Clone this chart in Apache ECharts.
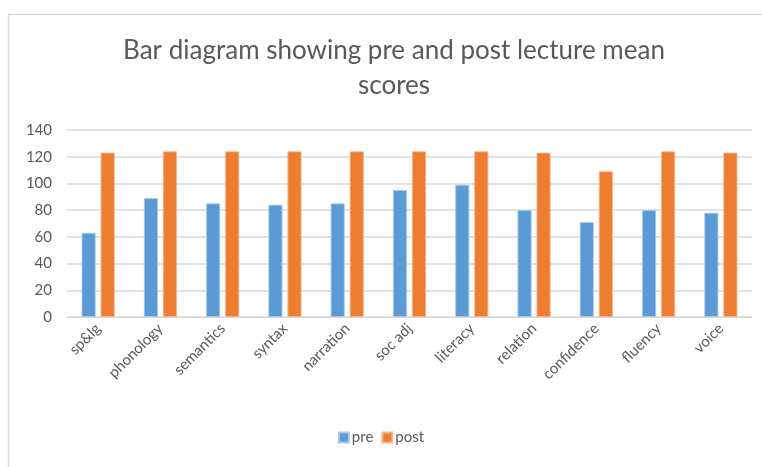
<!DOCTYPE html>
<html>
<head>
<meta charset="utf-8">
<script src="https://cdn.jsdelivr.net/npm/echarts@6/dist/echarts.min.js"></script>
<style>
  html, body { margin: 0; padding: 0; background: #fff; }
  #bar { width: 762px; height: 467px; }
</style>
</head>
<body>
<div id="bar"></div>
<script>
var categories = ['sp&lg', 'phonology', 'semantics', 'syntax', 'narration', 'soc adj', 'literacy', 'relation', 'confidence', 'fluency', 'voice'];
var preScores = [63, 89, 85, 84, 85, 95, 99, 80, 71, 80, 78];
var postScores = [123, 124, 124, 124, 124, 124, 124, 123, 109, 124, 123];
var yTicks = [0, 20, 40, 60, 80, 100, 120, 140];

var myChart = echarts.init(document.getElementById('bar'));
var option = {
  animation: false,
  textStyle: { fontFamily: 'Lato' },
  graphic: [
    {
      type: 'rect',
      shape: { x: 8.5, y: 14.5, width: 800, height: 500 },
      style: { fill: 'none', stroke: '#d9d9d9', lineWidth: 1.5 },
      silent: true
    }
  ],
  title: {
    text: 'Bar diagram showing pre and post lecture mean\nscores',
    left: 389,
    textAlign: 'center',
    top: 28,
    textStyle: {
      fontFamily: 'Lato',
      fontSize: 26,
      fontWeight: 'normal',
      color: '#595959',
      lineHeight: 35
    }
  },
  legend: {
    data: ['pre', 'post'],
    bottom: 17,
    left: 'center',
    itemWidth: 10,
    itemHeight: 10,
    itemGap: 8,
    icon: 'rect',
    textStyle: { fontFamily: 'Lato', fontSize: 15, color: '#595959', padding: [0, 0, 0, -2] }
  },
  grid: {
    left: 67,
    right: 10,
    top: 130,
    bottom: 150,
    containLabel: false
  },
  xAxis: {
    type: 'category',
    data: categories,
    axisLine: { show: true, lineStyle: { color: '#d9d9d9' } },
    axisTick: { show: false },
    axisLabel: {
      interval: 0,
      rotate: 45,
      margin: 9,
      fontFamily: 'Lato',
      fontSize: 15,
      color: '#595959'
    }
  },
  yAxis: {
    type: 'value',
    min: yTicks[0],
    max: yTicks[yTicks.length - 1],
    interval: 20,
    axisLine: { show: false },
    axisTick: { show: false },
    axisLabel: { fontFamily: 'Lato', fontSize: 15, color: '#595959', margin: 15 },
    splitLine: { lineStyle: { color: '#d9d9d9', width: 1.5 } }
  },
  series: [
    {
      name: 'pre',
      type: 'bar',
      data: preScores,
      barWidth: 14,
      barGap: '36%',
      itemStyle: { color: '#5B9BD5', borderColor: '#a9c9ea', borderWidth: 0.8 }
    },
    {
      name: 'post',
      type: 'bar',
      data: postScores,
      barWidth: 14,
      itemStyle: { color: '#ED7D31', borderColor: '#f6b48a', borderWidth: 0.8 }
    }
  ]
};
myChart.setOption(option);
</script>
</body>
</html>
